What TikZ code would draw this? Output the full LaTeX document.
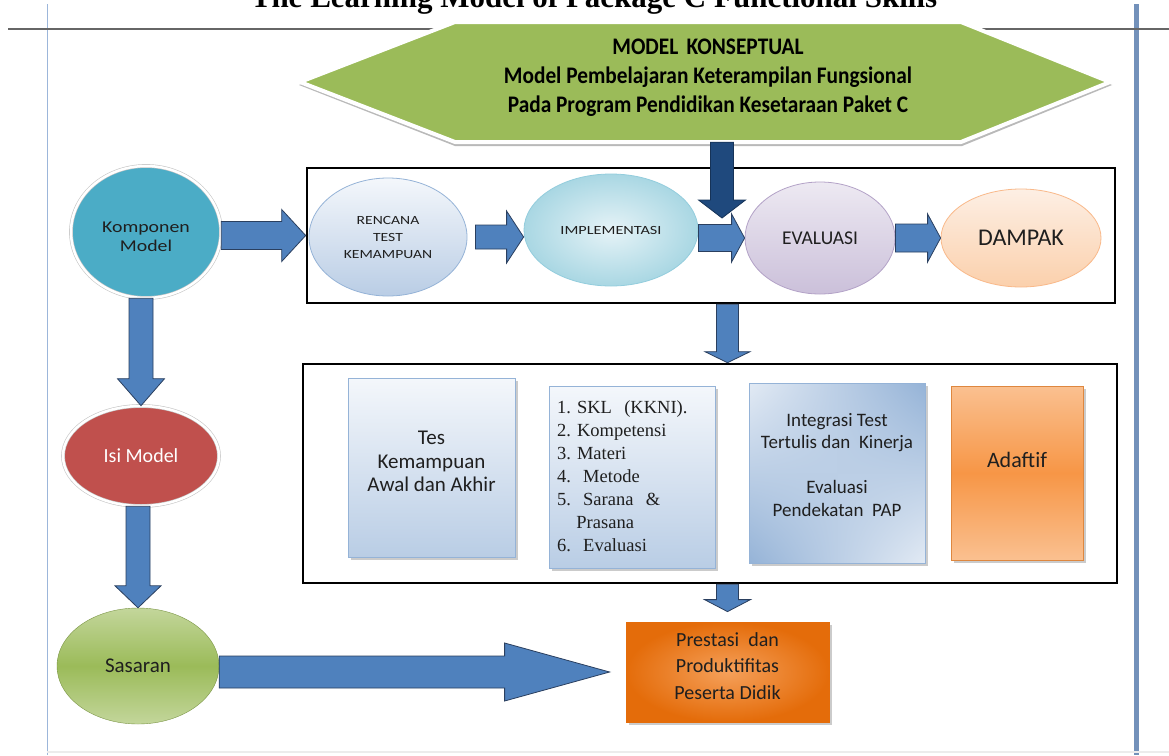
\documentclass[tikz,border=0pt]{standalone}
\usepackage{fontspec}
\setmainfont{Carlito}
\newfontfamily\tnr{Liberation Serif}
\usetikzlibrary{calc,shapes.geometric,shadows,shadings}
\frenchspacing
\definecolor{hexgreen}{HTML}{9BBB59}
\definecolor{arrblue}{HTML}{4F81BD}
\definecolor{arredge}{HTML}{2A3F5F}
\definecolor{navyc}{HTML}{1F497D}
\definecolor{tealc}{HTML}{4BACC6}
\definecolor{isired}{HTML}{C0504D}
\definecolor{lbA}{HTML}{F4F7FB}
\definecolor{lbB}{HTML}{B9CDE5}
\definecolor{lbC}{HTML}{95B3D7}
\definecolor{lbD}{HTML}{E2EAF4}
\definecolor{aqA}{HTML}{E6F3F7}
\definecolor{aqB}{HTML}{A9D7E3}
\definecolor{aqC}{HTML}{93CDDD}
\definecolor{puA}{HTML}{EDE9F2}
\definecolor{puB}{HTML}{CBC0DA}
\definecolor{puC}{HTML}{B3A2C7}
\definecolor{peA}{HTML}{FDEFE4}
\definecolor{peB}{HTML}{FBD0AC}
\definecolor{peC}{HTML}{F9B98A}
\definecolor{orA}{HTML}{FAC090}
\definecolor{orB}{HTML}{F79646}
\definecolor{orC}{HTML}{E46C0A}
\definecolor{orD}{HTML}{F5A05A}
\definecolor{grA}{HTML}{C3D69B}
\definecolor{grB}{HTML}{9BBB59}
\definecolor{sideline}{HTML}{7391BA}
\definecolor{leftline}{HTML}{9CB6DA}
% block arrow: [options]{from}{to}{shaft half width}{head half width}{head length}
\newcommand\barrow[6][]{%
  \coordinate (bh) at ($(#3)!#6!(#2)$);
  \draw[blockarrow,#1] ($(#2)!#4!90:(#3)$) -- ($(bh)!#4!90:(#3)$) -- ($(bh)!#5!90:(#3)$) -- (#3)
     -- ($(bh)!#5!-90:(#3)$) -- ($(bh)!#4!-90:(#3)$) -- ($(#2)!#4!-90:(#3)$) -- cycle;}
\newcommand\wx[2]{\scalebox{#1}[1]{#2}}
\begin{document}
\begin{tikzpicture}[x=1pt,y=-1pt,
  blockarrow/.style={fill=arrblue, draw=arredge, line width=0.8pt, line join=miter},
  frame/.style={draw=black, line width=2.6pt, inner sep=0, rectangle},
  oval/.style={ellipse, inner sep=0},
  card/.style={rectangle, inner sep=0, drop shadow={shadow xshift=2.5pt, shadow yshift=-2.5pt, opacity=.45, fill=black!45}},
  lbl/.style={align=center, inner sep=0, text=black!88},
  rim/.style={draw=gray!45, double=white, double distance=2.5pt, line width=0.6pt}]
\useasboundingbox (0,0) rectangle (1169,755);
\clip (0,0) rectangle (1169,755);
\fill[white] (0,0) rectangle (1169,755);
% page lines
\draw[leftline, line width=1pt] (47,4) -- (47,755);
\draw[sideline, line width=5pt] (1136.5,4) -- (1136.5,755);
\draw[gray!80!black, line width=2pt] (8,29) -- (1169,29);
\draw[gray!15, line width=1.5pt] (47,752) -- (1169,752);
\node[anchor=base, inner sep=0, font=\tnr\bfseries\fontsize{31}{31}\selectfont] (title) at (594,7) {The Learning Model of Package C Functional Skills};
% hexagon
\fill[gray!55] (299,85) -- (455,25) -- (962,25) -- (1112,85) -- (962,146) -- (455,146) -- cycle;
\filldraw[fill=hexgreen, draw=white, line width=4pt, line join=round] (300,82) -- (455,22) -- (961,22) -- (1110,82) -- (961,142) -- (455,142) -- cycle;
\node[inner sep=0, minimum width=810pt, minimum height=120pt] (hex) at (705,82) {};
\node[lbl, text=black, font=\bfseries\fontsize{22}{29}\selectfont] (hext) at (708,78)
  {\scalebox{0.97}[1.08]{MODEL\, KONSEPTUAL}\\ \scalebox{0.97}[1.08]{Model Pembelajaran Keterampilan Fungsional}\\ \scalebox{0.97}[1.08]{Pada Program Pendidikan Kesetaraan Paket C}};
% frames
\node[frame, minimum width=808pt, minimum height=135pt] (box1) at (711,235.5) {};
\node[frame, minimum width=814pt, minimum height=219pt] (box2) at (710,473.5) {};
% left column ellipses
\node[oval, rim, fill=tealc, minimum width=150pt, minimum height=132pt] (komp) at (146,232) {};
\node[lbl, font=\fontsize{16.5}{19.5}\selectfont] (kompt) at ($(komp.center)+(0,5)$) {\wx{1.2}{Komponen}\\\wx{1.2}{Model}};
\node[oval, rim, fill=isired, minimum width=156pt, minimum height=100pt] (isi) at (141,456) {};
\node[lbl, text=white, font=\fontsize{20}{22}\selectfont] (isit) at (isi.center) {Isi Model};
\node[oval, top color=grA, bottom color=grA, middle color=grB, draw=grB!80!black, line width=0.4pt, minimum width=162pt, minimum height=116pt] (sas) at (138,666) {};
\node[lbl, font=\fontsize{21}{23}\selectfont] (sast) at (sas.center) {Sasaran};
% top row ellipses
\node[oval, top color=lbA, bottom color=lbB, draw=lbC, line width=0.8pt, minimum width=158pt, minimum height=118pt] (ren) at (388,237) {};
\node[lbl, font=\fontsize{12.5}{17}\selectfont] (rent) at (ren.center) {\wx{1.25}{RENCANA}\\\wx{1.25}{TEST}\\\wx{1.25}{KEMAMPUAN}};
\node[oval, inner color=aqA, outer color=aqB, draw=aqC, line width=0.8pt, minimum width=174pt, minimum height=112pt] (impl) at (611,230) {};
\node[lbl, font=\fontsize{12.5}{15}\selectfont] (implt) at (impl.center) {\wx{1.3}{IMPLEMENTASI}};
\node[oval, top color=puA, bottom color=puB, draw=puC, line width=0.8pt, minimum width=150pt, minimum height=112pt] (eval) at (820,238) {};
\node[lbl, font=\fontsize{19.5}{21}\selectfont] (evalt) at (eval.center) {EVALUASI};
\node[oval, top color=peA, bottom color=peB, draw=peC, line width=0.8pt, minimum width=160pt, minimum height=98pt] (damp) at (1021,238) {};
\node[lbl, font=\fontsize{24}{26}\selectfont] (dampt) at (damp.center) {DAMPAK};
% cards in second frame
\node[card, top color=lbA, bottom color=lbB, draw=lbC, line width=0.8pt, minimum width=167pt, minimum height=179pt] (tes) at (431.5,467.5) {};
\node[lbl, font=\fontsize{21}{23.5}\selectfont] (test) at ($(tes.center)+(0,-6)$) {Tes\\Kemampuan\\Awal dan Akhir};
\node[card, top color=lbA, bottom color=lbB, draw=lbC, line width=0.8pt, minimum width=166pt, minimum height=182pt] (lst) at (632,477) {};
\node[inner sep=0, align=left, text width=150pt, text=black!88, font=\tnr\fontsize{18.5}{23}\selectfont] (lstt) at ($(lst.center)+(0,-1)$)
  {1. SKL\ \ (KKNI).\\ 2. Kompetensi\\ 3. Materi\\ 4.\ \ Metode\\ 5.\ \ Sarana\ \ \&\\ \hspace*{1.05em}Prasana\\ 6.\ \ Evaluasi};
\node[card, upper left=lbD, lower right=lbD, upper right=lbC, lower left=lbC, draw=lbC, line width=0.8pt, minimum width=176pt, minimum height=180pt] (integ) at (837,473) {};
\node[lbl, font=\fontsize{19}{22.5}\selectfont] (integt) at ($(integ.center)+(0,-8)$) {Integrasi Test\\Tertulis dan\ \ Kinerja\\[22.5pt]Evaluasi\\Pendekatan\ \ PAP};
\node[card, top color=orA, bottom color=orA, middle color=orB, draw=orB!90!black, line width=0.8pt, minimum width=132pt, minimum height=174pt] (adap) at (1017,473) {};
\node[lbl, font=\fontsize{22}{24}\selectfont] (adapt) at ($(adap.center)+(0,-13)$) {Adaftif};
% result box
\node[card, inner color=orD, outer color=orC, draw=orC, line width=0.8pt, minimum width=203pt, minimum height=100pt] (pres) at (727.5,672) {};
\node[lbl, font=\fontsize{20}{26.5}\selectfont] (prest) at ($(pres.center)+(0,-6)$) {Prestasi\ \ dan\\Produktifitas\\Peserta Didik};
% connectors
\coordinate (k1) at (komp.east |- box1.west);
\barrow{k1}{box1.west}{14pt}{26pt}{24pt}
\coordinate (r1) at ($(ren.east)+(8,0)$);
\coordinate (r2) at (impl.west |- ren.east);
\barrow{r1}{r2}{12pt}{26pt}{17pt}
\coordinate (i1) at (impl.east |- eval.west);
\barrow{i1}{eval.west}{13.5pt}{24pt}{13pt}
\coordinate (e2) at (damp.west |- eval.east);
\barrow{eval.east}{e2}{14pt}{24pt}{13pt}
\coordinate (dtip) at (722,218);
\coordinate (dstart) at (hex.south -| dtip);
\barrow[fill=navyc, draw=navyc!70!black]{dstart}{dtip}{11.5pt}{23.5pt}{18pt}
\coordinate (b1s) at (box1.south -| pres.north);
\coordinate (b2n) at (box2.north -| pres.north);
\barrow{b1s}{b2n}{11pt}{22.5pt}{11pt}
\coordinate (b2s) at (box2.south -| pres.north);
\coordinate (pn) at ($(pres.north)+(0,-10)$);
\barrow{b2s}{pn}{11pt}{23pt}{12pt}
\coordinate (kS) at (komp.south -| isi.north);
\barrow{kS}{isi.north}{12pt}{23.5pt}{27pt}
\coordinate (iS) at (isi.south -| sas.north);
\barrow{iS}{sas.north}{12pt}{23pt}{22pt}
\coordinate (sE) at (sas.east |- pres.west);
\coordinate (pW) at ($(pres.west)+(-16,0)$);
\barrow{sE}{pW}{16pt}{29pt}{105pt}
\end{tikzpicture}
\end{document}
